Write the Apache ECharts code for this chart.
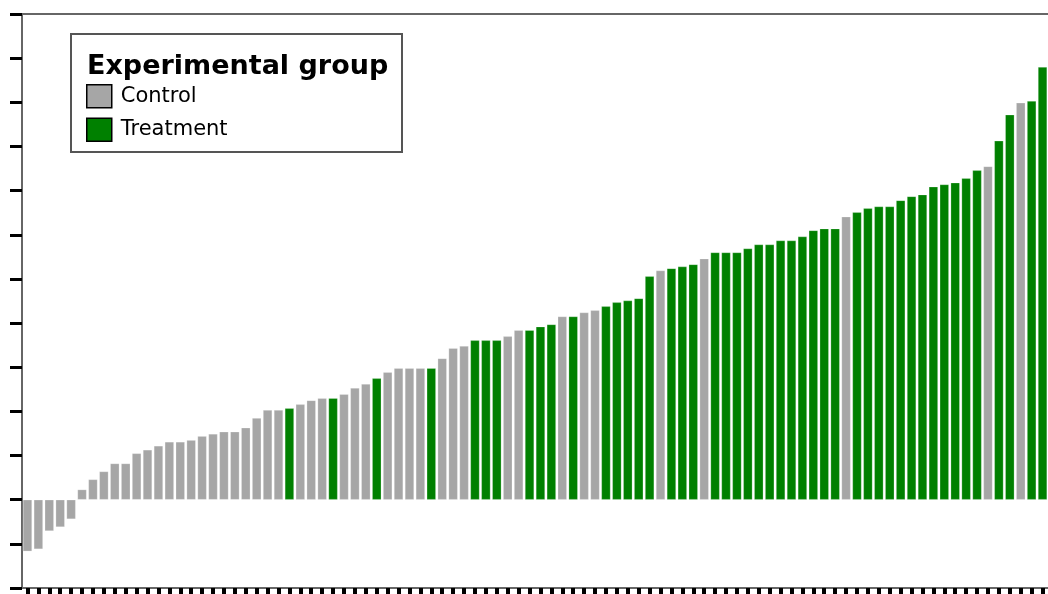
<!DOCTYPE html>
<html>
<head>
<meta charset="utf-8">
<title>Best response by patient</title>
<script src="https://cdn.jsdelivr.net/npm/echarts@6/dist/echarts.min.js"></script>
<style>
  html, body { margin: 0; padding: 0; background: #fff; }
  #chart { width: 1048px; height: 594px; }
</style>
</head>
<body>
<div id="chart"></div>
<script>
// Best change per patient, sorted ascending (axis units: percent)
const responses = [
  -11.7, -11.2, -7.1, -6.2, -4.4, 2.3, 4.6, 6.4, 8.2, 8.2,
  10.5, 11.3, 12.2, 13.1, 13.1, 13.5, 14.4, 14.9, 15.4, 15.4,
  16.3, 18.5, 20.3, 20.3, 20.7, 21.6, 22.5, 23.0, 23.0, 23.9,
  25.3, 26.2, 27.5, 28.9, 29.8, 29.8, 29.8, 29.8, 32.0, 34.3,
  34.8, 36.1, 36.1, 36.1, 37.0, 38.4, 38.4, 39.2, 39.7, 41.5,
  41.5, 42.4, 42.9, 43.8, 44.7, 45.1, 45.6, 50.6, 51.9, 52.4,
  52.8, 53.3, 54.6, 56.0, 56.0, 56.0, 56.9, 57.8, 57.8, 58.7,
  58.7, 59.6, 61.0, 61.4, 61.4, 64.1, 65.1, 66.0, 66.4, 66.4,
  67.8, 68.7, 69.1, 70.9, 71.4, 71.8, 72.8, 74.6, 75.5, 81.3,
  87.2, 89.9, 90.3, 98.0
];

// Group of each patient: C = Control, T = Treatment
const groups = [
  'C','C','C','C','C','C','C','C','C','C',
  'C','C','C','C','C','C','C','C','C','C',
  'C','C','C','C','T','C','C','C','T','C',
  'C','C','T','C','C','C','C','T','C','C',
  'C','T','T','T','C','C','T','T','T','C',
  'T','C','C','T','T','T','T','T','C','T',
  'T','T','C','T','T','T','T','T','T','T',
  'T','T','T','T','T','C','T','T','T','T',
  'T','T','T','T','T','T','T','T','C','T',
  'T','C','T','T'
];

const groupNames = { C: 'Control', T: 'Treatment' };
const groupColors = { C: '#a6a6a6', T: '#008000' };
const legendTitle = 'Experimental group';

const patients = responses.map((_, i) => 'P' + (i + 1));

function seriesFor(code) {
  return {
    name: groupNames[code],
    type: 'bar',
    xAxisIndex: 0,
    yAxisIndex: 0,
    barWidth: '84%',
    barGap: '-100%',
    itemStyle: {
      color: groupColors[code],
      borderColor: 'rgba(255,255,255,0.4)',
      borderWidth: 0.6
    },
    data: responses.map((v, i) => (groups[i] === code ? v : '-'))
  };
}

const chart = echarts.init(document.getElementById('chart'), null, { renderer: 'canvas' });

chart.setOption({
  animation: false,
  backgroundColor: '#fff',
  grid: { left: 22, right: 0, top: 14, bottom: 6, containLabel: false },
  xAxis: [
    {
      type: 'category',
      data: patients,
      position: 'bottom',
      boundaryGap: true,
      axisLine: { show: true, onZero: false, lineStyle: { color: '#666', width: 2 } },
      axisTick: { show: true, alignWithLabel: true, interval: 0, length: 6, lineStyle: { color: '#000', width: 4 } },
      axisLabel: { show: false },
      splitLine: { show: false }
    },
    {
      type: 'category',
      data: patients,
      position: 'top',
      axisLine: { show: true, onZero: false, lineStyle: { color: '#666', width: 2 } },
      axisTick: { show: false },
      axisLabel: { show: false },
      splitLine: { show: false }
    }
  ],
  yAxis: {
    type: 'value',
    min: -20,
    max: 110,
    interval: 10,
    axisLine: { show: true, lineStyle: { color: '#666', width: 2 } },
    axisTick: { show: true, length: 12, lineStyle: { color: '#000', width: 3 } },
    axisLabel: { show: false },
    splitLine: { show: false }
  },
  legend: {
    z: 100,
    data: ['Control', 'Treatment'],
    orient: 'vertical',
    left: 86,
    top: 84,
    padding: 0,
    itemWidth: 25,
    itemHeight: 23,
    itemGap: 9,
    icon: 'rect',
    selectedMode: false,
    itemStyle: { borderColor: '#000', borderWidth: 1.5 },
    textStyle: {
      fontFamily: 'DejaVu Sans',
      fontSize: 21,
      color: '#000',
      padding: [0, 0, 0, 4]
    }
  },
  graphic: [
    {
      type: 'rect',
      z: 50,
      shape: { x: 71, y: 34, width: 331, height: 118 },
      style: { fill: '#fff', stroke: '#555', lineWidth: 2 }
    },
    {
      type: 'text',
      z: 51,
      left: 87,
      top: 53,
      style: {
        text: legendTitle,
        font: 'bold 27px "DejaVu Sans"',
        fill: '#000'
      }
    }
  ],
  series: [seriesFor('C'), seriesFor('T')]
});
</script>
</body>
</html>
